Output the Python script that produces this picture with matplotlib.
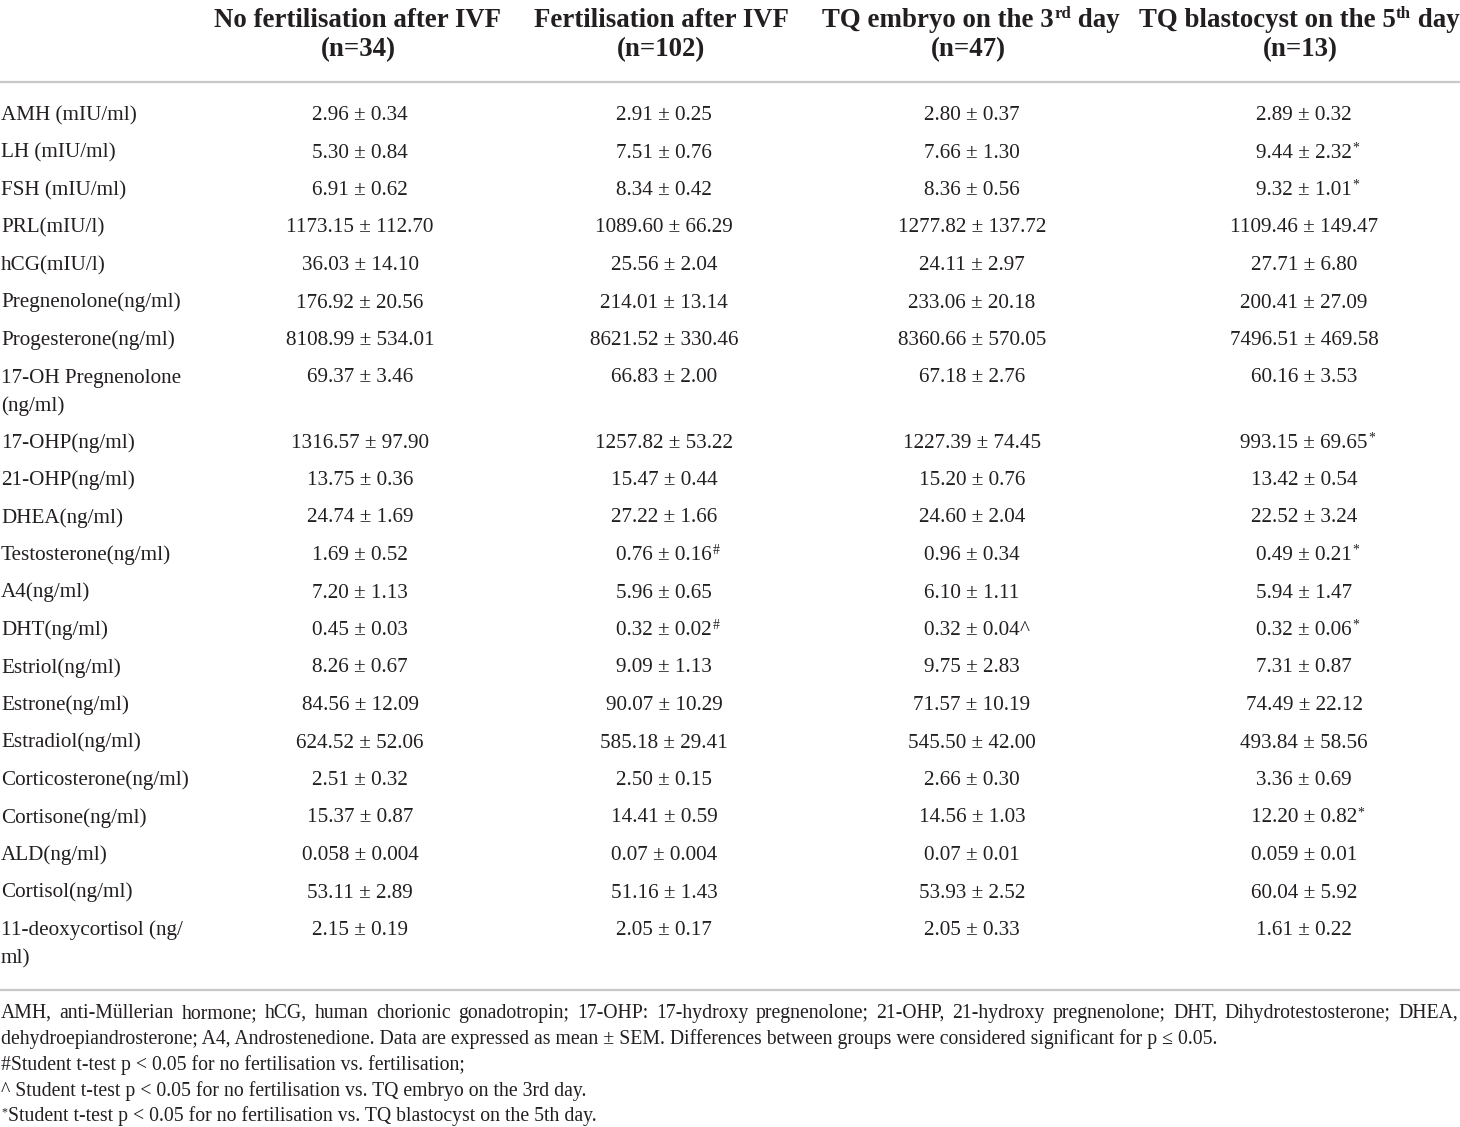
import matplotlib
matplotlib.use('Agg')
import matplotlib.pyplot as plt
from matplotlib.lines import Line2D

plt.rcParams['font.family'] = ['Liberation Serif', 'DejaVu Serif']

# ---------------- data ----------------
# header first lines as (text, superscript) pieces
headers = [
    ([("No fertilisation after IVF", False)], "(n=34)"),
    ([("Fertilisation after IVF", False)], "(n=102)"),
    ([("TQ embryo on the 3", False), ("rd", True), (" day", False)], "(n=47)"),
    ([("TQ blastocyst on the 5", False), ("th", True), (" day", False)], "(n=13)"),
]

labels = ["AMH (mIU/ml)", "LH (mIU/ml)", "FSH (mIU/ml)", "PRL(mIU/l)", "hCG(mIU/l)",
          "Pregnenolone(ng/ml)", "Progesterone(ng/ml)", "17-OH Pregnenolone\n(ng/ml)",
          "17-OHP(ng/ml)", "21-OHP(ng/ml)", "DHEA(ng/ml)", "Testosterone(ng/ml)",
          "A4(ng/ml)", "DHT(ng/ml)", "Estriol(ng/ml)", "Estrone(ng/ml)",
          "Estradiol(ng/ml)", "Corticosterone(ng/ml)", "Cortisone(ng/ml)",
          "ALD(ng/ml)", "Cortisol(ng/ml)", "11-deoxycortisol (ng/\nml)"]

no_fert = ["2.96 ± 0.34", "5.30 ± 0.84", "6.91 ± 0.62", "1173.15 ± 112.70", "36.03 ± 14.10",
           "176.92 ± 20.56", "8108.99 ± 534.01", "69.37 ± 3.46", "1316.57 ± 97.90",
           "13.75 ± 0.36", "24.74 ± 1.69", "1.69 ± 0.52", "7.20 ± 1.13", "0.45 ± 0.03",
           "8.26 ± 0.67", "84.56 ± 12.09", "624.52 ± 52.06", "2.51 ± 0.32", "15.37 ± 0.87",
           "0.058 ± 0.004", "53.11 ± 2.89", "2.15 ± 0.19"]
no_fert_marks = [""] * 22

fert = ["2.91 ± 0.25", "7.51 ± 0.76", "8.34 ± 0.42", "1089.60 ± 66.29", "25.56 ± 2.04",
        "214.01 ± 13.14", "8621.52 ± 330.46", "66.83 ± 2.00", "1257.82 ± 53.22",
        "15.47 ± 0.44", "27.22 ± 1.66", "0.76 ± 0.16", "5.96 ± 0.65", "0.32 ± 0.02",
        "9.09 ± 1.13", "90.07 ± 10.29", "585.18 ± 29.41", "2.50 ± 0.15", "14.41 ± 0.59",
        "0.07 ± 0.004", "51.16 ± 1.43", "2.05 ± 0.17"]
fert_marks = ["", "", "", "", "", "", "", "", "", "", "", "#", "", "#",
              "", "", "", "", "", "", "", ""]

tq3 = ["2.80 ± 0.37", "7.66 ± 1.30", "8.36 ± 0.56", "1277.82 ± 137.72", "24.11 ± 2.97",
       "233.06 ± 20.18", "8360.66 ± 570.05", "67.18 ± 2.76", "1227.39 ± 74.45",
       "15.20 ± 0.76", "24.60 ± 2.04", "0.96 ± 0.34", "6.10 ± 1.11", "0.32 ± 0.04",
       "9.75 ± 2.83", "71.57 ± 10.19", "545.50 ± 42.00", "2.66 ± 0.30", "14.56 ± 1.03",
       "0.07 ± 0.01", "53.93 ± 2.52", "2.05 ± 0.33"]
tq3_marks = ["", "", "", "", "", "", "", "", "", "", "", "", "", "^",
             "", "", "", "", "", "", "", ""]

tq5 = ["2.89 ± 0.32", "9.44 ± 2.32", "9.32 ± 1.01", "1109.46 ± 149.47", "27.71 ± 6.80",
       "200.41 ± 27.09", "7496.51 ± 469.58", "60.16 ± 3.53", "993.15 ± 69.65",
       "13.42 ± 0.54", "22.52 ± 3.24", "0.49 ± 0.21", "5.94 ± 1.47", "0.32 ± 0.06",
       "7.31 ± 0.87", "74.49 ± 22.12", "493.84 ± 58.56", "3.36 ± 0.69", "12.20 ± 0.82",
       "0.059 ± 0.01", "60.04 ± 5.92", "1.61 ± 0.22"]
tq5_marks = ["", "*", "*", "", "", "", "", "", "*", "", "", "*", "", "*",
             "", "", "", "", "*", "", "", ""]

footnote_line1 = ("AMH, anti-Müllerian hormone; hCG, human chorionic gonadotropin; 17-OHP: "
                  "17-hydroxy pregnenolone; 21-OHP, 21-hydroxy pregnenolone; DHT, "
                  "Dihydrotestosterone; DHEA,")
footnote_rest = [
    ("", "dehydroepiandrosterone; A4, Androstenedione. Data are expressed as mean ± SEM. "
         "Differences between groups were considered significant for p ≤ 0.05."),
    ("", "#Student t-test p < 0.05 for no fertilisation vs. fertilisation;"),
    ("", "^ Student t-test p < 0.05 for no fertilisation vs. TQ embryo on the 3rd day."),
    ("*", "Student t-test p < 0.05 for no fertilisation vs. TQ blastocyst on the 5th day."),
]

columns = [(no_fert, no_fert_marks), (fert, fert_marks), (tq3, tq3_marks), (tq5, tq5_marks)]

# ---------------- layout ----------------
W, H = 1460, 1127
fig = plt.figure(figsize=(W / 100, H / 100), dpi=100)
fig.patch.set_facecolor('white')
renderer = fig.canvas.get_renderer()

TXT = '#231f20'
RULE = '#c8c8c8'
BODY_FS = 15.2
HEAD_FS = 19.4
FOOT_FS = 14.2


def fy(py):
    return 1 - py / H


def fx(px):
    return px / W


def hline(py):
    fig.add_artist(Line2D([0, 1], [fy(py), fy(py)], color=RULE, lw=1.6,
                          transform=fig.transFigure))


def text_width(s, **kw):
    t = fig.text(0, 0, s, **kw)
    w = t.get_window_extent(renderer).width
    t.remove()
    return w


col_centers = [360, 664, 972, 1304]
head_centers_1 = [358, 661, 971, 1299]
head_centers_2 = [358, 661, 968, 1300]

for (pieces, l2), c1, c2 in zip(headers, head_centers_1, head_centers_2):
    specs = []
    for s, sup in pieces:
        fs = HEAD_FS * 0.62 if sup else HEAD_FS
        specs.append((s, sup, fs, text_width(s, fontsize=fs, fontweight='bold')))
    total = sum(sp[3] for sp in specs)
    x = c1 - total / 2
    for s, sup, fs, w in specs:
        fig.text(fx(x), fy(27 - (9 if sup else 0)), s, ha='left', va='baseline',
                 fontsize=fs, fontweight='bold', color=TXT)
        x += w
    fig.text(fx(c2), fy(56), l2, ha='center', va='baseline', fontsize=HEAD_FS,
             fontweight='bold', color=TXT)

hline(82)

# row centers
row_y = []
y = 113.0
for lab in labels:
    row_y.append(y)
    y += 37.5 + (27.5 if "\n" in lab else 0)

for i, lab in enumerate(labels):
    base = row_y[i] + 7
    parts = lab.split("\n")
    for k, p in enumerate(parts):
        fig.text(fx(1), fy(base + 28 * k), p, ha='left', va='baseline',
                 fontsize=BODY_FS, color=TXT)
    for (vals, marks), cx in zip(columns, col_centers):
        t = fig.text(fx(cx), fy(base), vals[i], ha='center', va='baseline',
                     fontsize=BODY_FS, color=TXT)
        m = marks[i]
        if m:
            bb = t.get_window_extent(renderer)
            if m == '^':
                fig.text(bb.x1 / W, fy(base), "^", ha='left', va='baseline',
                         fontsize=BODY_FS, color=TXT)
            else:
                fig.text(bb.x1 / W + 0.5 / W, fy(base - 6), m, ha='left', va='baseline',
                         fontsize=BODY_FS * 0.65, color=TXT)

hline(990)

# justified first footnote line
words = footnote_line1.split(" ")
widths = [text_width(w_, fontsize=FOOT_FS) for w_ in words]
total = sum(widths)
gap = (1458 - 1 - total) / (len(words) - 1)
x = 1.0
for w_, wd in zip(words, widths):
    fig.text(fx(x), fy(1018), w_, ha='left', va='baseline', fontsize=FOOT_FS, color=TXT)
    x += wd + gap

for k, (sup, line) in enumerate(footnote_rest):
    base = 1044 + 25.8 * k
    x0 = 1
    if sup:
        t = fig.text(fx(x0), fy(base - 6), sup, ha='left', va='baseline',
                     fontsize=FOOT_FS * 0.6, color=TXT)
        x0 = t.get_window_extent(renderer).x1 + 0.5
    fig.text(fx(x0), fy(base), line, ha='left', va='baseline', fontsize=FOOT_FS, color=TXT)

fig.savefig('out.png', dpi=100, facecolor='white')
